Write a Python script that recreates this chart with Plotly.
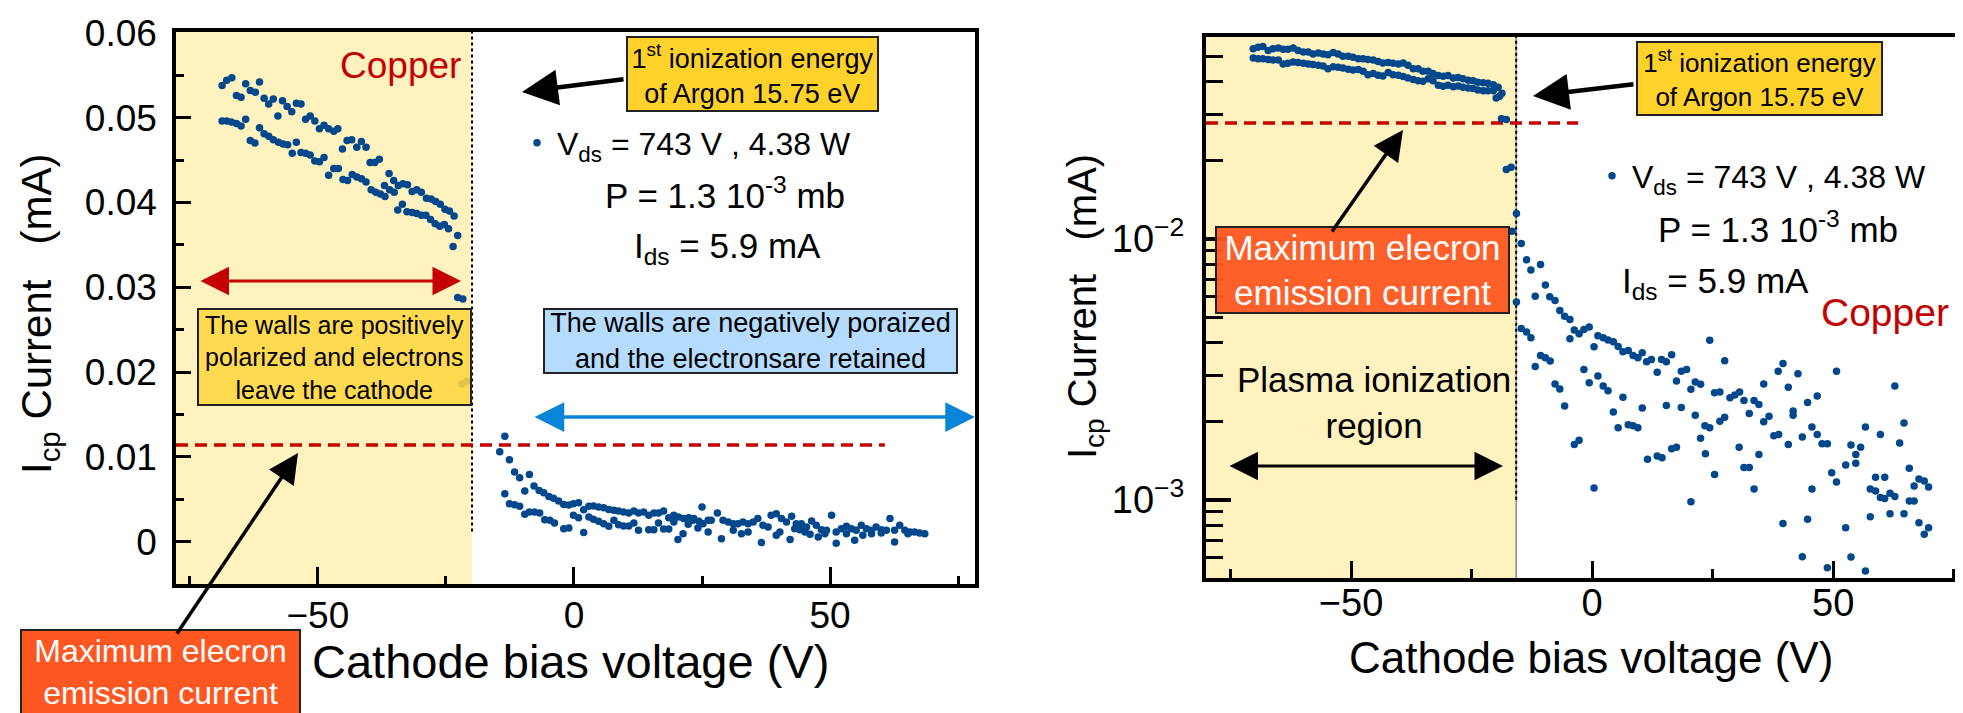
import plotly.graph_objects as go

W, H = 1963, 713
FONT = "Liberation Sans, Arial, Helvetica, sans-serif"

# ------------------------------------------------------------------
# Data: cathode bias (V) and I_cp current (mA)
# ------------------------------------------------------------------
# Linear panel - plasma ionisation region, upper sweep
lin_up_bias = [-68.7, -67.8, -66.8, -65.9, -65.0, -64.1, -63.2, -62.2, -61.4, -60.5,
               -59.6, -58.7, -57.8, -56.9, -56.0, -55.1, -54.2, -53.3, -52.4, -51.5,
               -50.6, -49.7, -48.8, -47.9, -46.9, -46.1, -45.2, -44.3, -43.4, -42.4,
               -41.5, -40.6, -39.8, -38.9, -38.0, -37.0, -36.1, -35.2, -34.3, -33.4,
               -32.5, -31.6, -30.7, -29.8, -28.8, -27.9, -27.0, -26.1, -25.2, -24.3,
               -23.4, -22.7]
lin_up_current = [0.0538, 0.0544, 0.0547, 0.0526, 0.0524, 0.0540, 0.0532, 0.0530, 0.0542, 0.0523,
                  0.0516, 0.0522, 0.0502, 0.0520, 0.0513, 0.0507, 0.0517, 0.0516, 0.0498, 0.0502,
                  0.0496, 0.0487, 0.0491, 0.0487, 0.0484, 0.0487, 0.0463, 0.0473, 0.0474, 0.0465,
                  0.0472, 0.0465, 0.0447, 0.0447, 0.0451, 0.0420, 0.0434, 0.0426, 0.0420, 0.0422,
                  0.0421, 0.0413, 0.0415, 0.0412, 0.0405, 0.0404, 0.0401, 0.0398, 0.0392, 0.0390,
                  0.0384, 0.0361]
# Linear panel - plasma ionisation region, lower sweep
lin_down_bias = [-68.7, -67.8, -66.9, -65.9, -65.0, -64.1, -63.2, -62.3, -61.4, -60.5,
                 -59.6, -58.7, -57.7, -56.8, -55.9, -55.0, -54.2, -53.3, -52.4, -51.5,
                 -50.6, -49.7, -48.8, -47.9, -46.9, -46.0, -45.1, -44.2, -43.3, -42.4,
                 -41.5, -40.6, -39.6, -38.7, -37.8, -36.9, -36.0, -35.1, -34.4, -33.5,
                 -32.6, -31.6, -30.7, -29.8, -28.9, -28.0, -27.1, -26.2, -25.3, -24.5,
                 -23.6, -22.7, -21.7, -21.9, -20.9]
lin_down_current = [0.0496, 0.0496, 0.0495, 0.0493, 0.0490, 0.0498, 0.0473, 0.0470, 0.0488, 0.0481,
                    0.0478, 0.0474, 0.0471, 0.0469, 0.0468, 0.0458, 0.0471, 0.0459, 0.0458, 0.0456,
                    0.0449, 0.0448, 0.0453, 0.0432, 0.0440, 0.0440, 0.0427, 0.0426, 0.0433, 0.0430,
                    0.0428, 0.0424, 0.0415, 0.0412, 0.0410, 0.0407, 0.0415, 0.0412, 0.0391, 0.0398,
                    0.0389, 0.0388, 0.0387, 0.0385, 0.0385, 0.0380, 0.0375, 0.0372, 0.0374, 0.0369,
                    0.0348, 0.0288, 0.0286, 0.0186, 0.0189]
# Linear panel - retarding region (right of the ionisation threshold)
lin_ret_a_bias = [-13.5, -14.5, -12.6, -11.6, -10.6, -8.7, -9.6, -13.5, -7.8, -6.8,
                  -5.9, -4.9, -4.0, -3.0, -2.0, -1.0, -0.1, 0.9, 1.9, 2.9,
                  3.8, 4.8, 5.8, 6.8, 7.8, 8.7, 9.7, 10.7, 11.7, 12.6,
                  13.6, 14.6, 15.6, 16.5, 17.5, 18.5, 19.5, 20.4, 21.4, 22.4,
                  23.4, 24.4, 25.0, 26.2]
lin_ret_a_current = [0.01243, 0.01059, 0.00965, 0.00820, 0.00753, 0.00792, 0.00596, 0.00565, 0.00655, 0.00604,
                     0.00576, 0.00533, 0.00510, 0.00478, 0.00439, 0.00431, 0.00447, 0.00459, 0.00376, 0.00416,
                     0.00420, 0.00408, 0.00400, 0.00380, 0.00369, 0.00361, 0.00349, 0.00337, 0.00361, 0.00337,
                     0.00349, 0.00310, 0.00337, 0.00337, 0.00361, 0.00282, 0.00310, 0.00290, 0.00271, 0.00282,
                     0.00271, 0.00239, 0.00408, 0.00251]
lin_ret_b_bias = [-12.6, -11.6, -10.6, -9.6, -8.7, -7.7, -6.7, -5.7, -4.7, -3.8,
                  -2.0, -1.0, -0.1, 0.9, 1.9, 2.9, 3.8, 4.8, 5.8, 6.8,
                  7.8, 8.7, 9.7, 10.7, 11.7, 12.6, 14.6, 15.6, 16.5, 17.5,
                  18.5, 19.5, 20.3, 21.3, 22.3, 23.2, 24.2, 25.2, 26.2]
lin_ret_b_current = [0.00447, 0.00435, 0.00416, 0.00322, 0.00349, 0.00349, 0.00337, 0.00259, 0.00251, 0.00220,
                     0.00153, 0.00161, 0.00310, 0.00282, 0.00106, 0.00290, 0.00263, 0.00239, 0.00212, 0.00180,
                     0.00251, 0.00200, 0.00184, 0.00184, 0.00220, 0.00133, 0.00141, 0.00141, 0.00220, 0.00149,
                     0.00149, 0.00231, 0.00024, 0.00094, 0.00204, 0.00251, 0.00161, 0.00212, 0.00114]
lin_ret_c_bias = [26.8, 28.0, 29.1, 30.1, 31.1, 32.0, 33.0, 34.0, 35.0, 35.9,
                  36.9, 37.9, 38.5, 39.5, 40.5, 41.5, 42.5, 43.4, 44.4, 45.4,
                  46.4, 47.3, 48.3, 49.3, 50.3, 51.2, 52.2, 53.2, 54.2, 55.1,
                  56.1, 57.1, 58.1, 59.0, 60.0, 61.0, 61.7, 62.6, 63.6, 64.6,
                  65.6, 66.5, 67.5, 68.5]
lin_ret_c_current = [0.00251, 0.00337, 0.00251, 0.00231, 0.00212, 0.00212, 0.00231, 0.00212, 0.00231, 0.00271,
                     0.00192, 0.00173, 0.00310, 0.00329, 0.00271, 0.00231, 0.00298, 0.00212, 0.00212, 0.00173,
                     0.00243, 0.00192, 0.00141, 0.00133, 0.00310, 0.00114, 0.00153, 0.00180, 0.00153, 0.00133,
                     0.00192, 0.00153, 0.00133, 0.00173, 0.00141, 0.00133, 0.00271, 0.00133, 0.00192, 0.00133,
                     0.00114, 0.00114, 0.00102, 0.00094]
lin_ret_d_bias = [28.8, 31.1, 32.7, 34.0, 36.6, 39.5, 40.2, 42.2, 43.1, 44.1,
                  45.1, 46.1, 47.7, 49.0, 51.2, 53.2, 54.8, 56.4, 58.1, 60.0,
                  62.6, 65.2]
lin_ret_d_current = [0.00035, 0.00133, 0.00094, 0.00114, -0.00012, 0.00075, 0.00114, 0.00024, 0.00153, 0.00141,
                     0.00114, 0.00086, 0.00055, 0.00094, -0.00020, 0.00094, 0.00016, 0.00075, 0.00094, 0.00102,
                     -0.00004, 0.00094]

# Log panel - plasma ionisation region
log_up_bias = [-70.3, -69.3, -68.3, -67.2, -66.2, -65.1, -64.1, -63.1, -62.0, -61.0,
               -59.9, -58.9, -57.9, -56.8, -55.8, -54.8, -53.7, -52.7, -51.7, -50.6,
               -49.6, -48.5, -47.5, -46.5, -45.4, -44.4, -43.4, -42.3, -41.3, -40.2,
               -39.2, -38.2, -37.1, -36.1, -35.1, -34.0, -33.0, -31.9, -30.9, -29.9,
               -28.8, -27.8, -26.8, -25.7, -24.7, -23.7, -22.6, -21.6, -20.5, -19.5,
               -18.7]
log_up_current = [0.0536, 0.0543, 0.0547, 0.0527, 0.0536, 0.0539, 0.0533, 0.0533, 0.0539, 0.0527,
                  0.0521, 0.0521, 0.0511, 0.0516, 0.0511, 0.0508, 0.0518, 0.0511, 0.0501, 0.0501,
                  0.0497, 0.0491, 0.0491, 0.0487, 0.0485, 0.0479, 0.0472, 0.0474, 0.0471, 0.0468,
                  0.0472, 0.0463, 0.0449, 0.0449, 0.0439, 0.0439, 0.0431, 0.0423, 0.0420, 0.0423,
                  0.0414, 0.0416, 0.0411, 0.0406, 0.0404, 0.0399, 0.0397, 0.0395, 0.0390, 0.0381,
                  0.0362]
log_down_bias = [-70.3, -69.3, -68.3, -67.2, -66.2, -65.1, -64.1, -63.1, -62.0, -61.0,
                 -59.9, -58.9, -57.9, -56.8, -55.8, -54.8, -53.7, -52.7, -51.7, -50.6,
                 -49.6, -48.5, -47.5, -46.5, -45.4, -44.4, -43.4, -42.3, -41.3, -40.2,
                 -39.2, -38.2, -37.1, -36.1, -35.1, -34.0, -33.0, -31.9, -30.9, -29.9,
                 -28.8, -27.8, -26.8, -25.7, -24.7, -23.7, -22.6, -21.6, -20.5, -19.9,
                 -19.2, -18.8, -17.8, -17.8, -16.8]
log_down_current = [0.0494, 0.0491, 0.0490, 0.0487, 0.0485, 0.0485, 0.0468, 0.0471, 0.0477, 0.0474,
                    0.0471, 0.0468, 0.0466, 0.0463, 0.0460, 0.0449, 0.0457, 0.0455, 0.0452, 0.0447,
                    0.0444, 0.0446, 0.0439, 0.0426, 0.0431, 0.0424, 0.0421, 0.0434, 0.0426, 0.0424,
                    0.0419, 0.0414, 0.0408, 0.0404, 0.0402, 0.0411, 0.0404, 0.0388, 0.0385, 0.0388,
                    0.0383, 0.0386, 0.0381, 0.0379, 0.0377, 0.0372, 0.0370, 0.0370, 0.0370, 0.0347,
                    0.0352, 0.0289, 0.0287, 0.01844, 0.01883]
# Log panel - retarding region
log_ret_bias = [-15.7, -16.6, -15.7, -14.7, -14.7, -13.6, -12.7, -13.6, -12.7, -10.7,
                -11.8, -9.7, -8.8, -7.7, -6.7, -5.7, -4.6, -4.6, -3.7, -2.7,
                -1.7, -0.6, -11.8, -10.7, -9.7, -8.7, -7.7, -6.7, -5.7, -3.7,
                -2.7, -1.7, -0.6, 0.4, 1.2, 2.3, 3.3, 4.4, 5.4, 6.4,
                7.5, 8.5, 9.5, 10.4, 11.3, 12.3, 13.5, 14.4, 15.4, 16.5,
                0.4, 1.2, 2.3, 3.3, 4.4, 5.4, 6.4, 7.5, 8.5, 9.5,
                10.4, 11.5, 13.5, 14.5, 15.4, 16.5, 17.5, 17.5, 18.5, 19.6,
                18.5, 20.5, 21.4, 22.5, 20.5, 21.4, 22.5, 23.5, 24.4, 23.4,
                24.4, 25.4, 25.4, 26.5, 27.5, 26.5, 27.5, 28.6, 29.6, 30.6,
                30.5, 31.5, 32.6, 33.6, 34.6, 31.5, 32.6, 33.6, 34.6, 35.6,
                35.6, 36.7, 37.7, 38.7, 38.6, 39.6, 40.7, 40.7, 39.6, 41.7,
                41.7, 42.7, 43.6, 44.7, 45.6, 46.7, 46.7, 47.7, 48.8, 44.7,
                45.6, 43.6, 49.7, 50.7, 50.7, 48.8, 52.6, 52.6, 53.7, 54.7,
                55.7, 54.7, 53.7, 56.7, 56.7, 57.7, 58.8, 59.8, 60.7, 58.8,
                60.7, 59.8, 57.7, 61.8, 62.8, 61.8, 62.8, 63.8, 64.7, 65.8,
                65.8, 66.8, 64.7, 66.8, 67.8, 68.9, 69.8, 67.8, 69.8, 68.9]
log_ret_current = [0.01250, 0.01070, 0.00573, 0.00960, 0.00453, 0.00440, 0.00418, 0.00831, 0.00760, 0.00797,
                   0.00603, 0.00665, 0.00600, 0.00580, 0.00531, 0.00505, 0.00491, 0.00414, 0.00447, 0.00433,
                   0.00449, 0.00459, 0.00324, 0.00357, 0.00350, 0.00340, 0.00278, 0.00266, 0.00229, 0.00163,
                   0.00169, 0.00316, 0.00281, 0.00386, 0.00425, 0.00418, 0.00410, 0.00403, 0.00387, 0.00369,
                   0.00373, 0.00357, 0.00350, 0.00366, 0.00338, 0.00345, 0.00308, 0.00345, 0.00338, 0.00360,
                   0.00111, 0.00298, 0.00273, 0.00262, 0.00217, 0.00189, 0.00247, 0.00194, 0.00192, 0.00189,
                   0.00225, 0.00143, 0.00147, 0.00145, 0.00230, 0.00157, 0.00159, 0.00285, 0.00311, 0.00316,
                   0.00226, 0.00265, 0.00283, 0.00277, 0.000982, 0.00211, 0.00172, 0.00150, 0.00409, 0.00192,
                   0.00189, 0.00125, 0.00257, 0.00259, 0.00341, 0.00200, 0.00207, 0.00246, 0.00252, 0.00259,
                   0.00159, 0.00240, 0.00214, 0.00240, 0.00232, 0.00133, 0.00133, 0.00110, 0.00149, 0.00278,
                   0.00199, 0.00209, 0.00176, 0.00178, 0.00311, 0.00333, 0.00270, 0.00163, 0.000811, 0.00219,
                   0.00211, 0.00304, 0.00174, 0.00236, 0.00190, 0.00250, 0.00178, 0.00164, 0.00164, 0.000841,
                   0.00110, 0.000605, 0.00127, 0.00117, 0.00311, 0.000549, 0.00136, 0.000781, 0.00162, 0.00149,
                   0.00159, 0.00138, 0.000603, 0.00190, 0.000533, 0.00110, 0.00108, 0.00102, 0.00101, 0.00122,
                   0.00122, 0.00178, 0.000861, 0.00106, 0.00103, 0.000884, 0.00273, 0.00165, 0.00197, 0.00132,
                   0.000988, 0.000988, 0.000884, 0.00113, 0.00120, 0.00118, 0.00112, 0.000816, 0.000781, 0.000737]

# Reference levels
lin_threshold_bias = -19.9       # 1st ionisation energy of Ar, as placed on the linear panel
log_threshold_bias = -15.75      # 1st ionisation energy of Ar, log panel
lin_max_emission = 0.0114        # maximum electron emission current (mA)
log_max_emission = 0.0278
lin_dash_end = 60.7
log_dash_end = -2.9
lin_dot_bottom = 0.0012
log_dot_bottom = 0.001

LIN_X_RANGE = [-77.7, 78.3]
LIN_Y_RANGE = [-0.005, 0.0601]
LOG_X_RANGE = [-80.1, 78.6]
LOG_Y_EXP = [-3.3, -1.226]
LOG_Y_LIMITS = [10 ** LOG_Y_EXP[0], 10 ** LOG_Y_EXP[1]]

LOG_MAJOR = [0.001, 0.01]
LOG_MAJOR_TEXT = ["10<sup>\u22123</sup>", "10<sup>\u22122</sup>"]
LOG_MINOR = [0.0006, 0.0007, 0.0008, 0.0009, 0.002, 0.003, 0.004, 0.005, 0.006,
             0.007, 0.008, 0.009, 0.02, 0.03, 0.04, 0.05]

DOT = "#00478C"
REGION = "#FFF2BF"
RED = "#C40000"


def px(x):
    return x / W


def py(y):
    return 1 - y / H


fig = go.Figure()

# ---- Left (linear) panel ----
fig.add_trace(go.Scatter(
    x=[LIN_X_RANGE[0], lin_threshold_bias, lin_threshold_bias, LIN_X_RANGE[0], LIN_X_RANGE[0]],
    y=[LIN_Y_RANGE[0], LIN_Y_RANGE[0], LIN_Y_RANGE[1], LIN_Y_RANGE[1], LIN_Y_RANGE[0]],
    fill="toself", fillcolor=REGION, mode="lines", line=dict(width=0),
    hoverinfo="skip", showlegend=False, xaxis="x", yaxis="y"))
fig.add_trace(go.Scatter(
    x=[lin_threshold_bias, lin_threshold_bias], y=[lin_dot_bottom, LIN_Y_RANGE[1]],
    mode="lines", line=dict(color="black", width=2, dash="dot"),
    hoverinfo="skip", showlegend=False, xaxis="x", yaxis="y"))
fig.add_trace(go.Scatter(
    x=[LIN_X_RANGE[0], lin_dash_end], y=[lin_max_emission, lin_max_emission],
    mode="lines", line=dict(color=RED, width=3.5, dash="12px,7px"),
    hoverinfo="skip", showlegend=False, xaxis="x", yaxis="y"))
fig.add_trace(go.Scatter(
    x=lin_up_bias + lin_down_bias + lin_ret_a_bias + lin_ret_b_bias + lin_ret_c_bias + lin_ret_d_bias,
    y=lin_up_current + lin_down_current + lin_ret_a_current + lin_ret_b_current
      + lin_ret_c_current + lin_ret_d_current,
    mode="markers", marker=dict(size=7.5, color=DOT),
    name="V<sub>ds</sub> = 743 V , 4.38 W", legend="legend",
    xaxis="x", yaxis="y"))

# ---- Right (log) panel ----
fig.add_trace(go.Scatter(
    x=[LOG_X_RANGE[0], log_threshold_bias, log_threshold_bias, LOG_X_RANGE[0], LOG_X_RANGE[0]],
    y=[LOG_Y_LIMITS[0], LOG_Y_LIMITS[0], LOG_Y_LIMITS[1], LOG_Y_LIMITS[1], LOG_Y_LIMITS[0]],
    fill="toself", fillcolor=REGION, mode="lines", line=dict(width=0),
    hoverinfo="skip", showlegend=False, xaxis="x2", yaxis="y2"))
fig.add_trace(go.Scatter(
    x=[log_threshold_bias, log_threshold_bias], y=LOG_Y_LIMITS,
    mode="lines", line=dict(color="#888888", width=1.5),
    hoverinfo="skip", showlegend=False, xaxis="x2", yaxis="y2"))
fig.add_trace(go.Scatter(
    x=[log_threshold_bias, log_threshold_bias], y=[log_dot_bottom, LOG_Y_LIMITS[1]],
    mode="lines", line=dict(color="black", width=2, dash="dot"),
    hoverinfo="skip", showlegend=False, xaxis="x2", yaxis="y2"))
fig.add_trace(go.Scatter(
    x=[LOG_X_RANGE[0], log_dash_end], y=[log_max_emission, log_max_emission],
    mode="lines", line=dict(color=RED, width=3.5, dash="12px,7px"),
    hoverinfo="skip", showlegend=False, xaxis="x2", yaxis="y2"))
fig.add_trace(go.Scatter(
    x=log_up_bias + log_down_bias + log_ret_bias,
    y=log_up_current + log_down_current + log_ret_current,
    mode="markers", marker=dict(size=7.5, color=DOT),
    name="V<sub>ds</sub> = 743 V , 4.38 W", legend="legend2",
    xaxis="x2", yaxis="y2"))

axis_common = dict(showline=True, linecolor="black", showgrid=False, zeroline=False,
                   ticks="inside", tickcolor="black", automargin=False)

fig.update_layout(
    width=W, height=H, margin=dict(l=0, r=0, t=0, b=0),
    template="none", paper_bgcolor="white", plot_bgcolor="white",
    font=dict(family=FONT, color="black"),
    xaxis=dict(axis_common, domain=[px(168), px(967)], range=LIN_X_RANGE, anchor="y",
               mirror=True, linewidth=3.5, tick0=0, dtick=50, ticklen=17, tickwidth=3,
               minor=dict(ticks="inside", tick0=0, dtick=25, ticklen=8, tickwidth=2.5, tickcolor="black"),
               tickfont=dict(family=FONT, size=37, color="black"), ticklabelstandoff=-4),
    yaxis=dict(axis_common, domain=[py(576), py(24)], range=LIN_Y_RANGE, anchor="x",
               mirror=True, linewidth=3.5, tick0=0, dtick=0.01, ticklen=15, tickwidth=3,
               minor=dict(ticks="inside", tick0=0, dtick=0.005, ticklen=8, tickwidth=2.5, tickcolor="black"),
               tickfont=dict(family=FONT, size=37, color="black"), ticklabelstandoff=8),
    xaxis2=dict(axis_common, domain=[px(1198), 1.0], range=LOG_X_RANGE, anchor="y2",
                mirror=True, linewidth=4, tick0=0, dtick=50, ticklen=17, tickwidth=3,
                minor=dict(ticks="inside", tick0=0, dtick=25, ticklen=9, tickwidth=2.5, tickcolor="black"),
                tickfont=dict(family=FONT, size=38, color="black"), ticklabelstandoff=-12),
    yaxis2=dict(axis_common, domain=[py(570), py(29)], type="log", range=LOG_Y_EXP, anchor="x2",
                mirror=False, linewidth=4, tickmode="array", tickvals=LOG_MAJOR, ticktext=LOG_MAJOR_TEXT,
                ticklen=25, tickwidth=4,
                minor=dict(ticks="inside", tickmode="array", tickvals=LOG_MINOR, ticklen=17,
                           tickwidth=3, tickcolor="black"),
                tickfont=dict(family=FONT, size=38, color="black"), ticklabelstandoff=10),
    legend=dict(x=px(509), y=py(135), xanchor="left", yanchor="middle",
                bgcolor="rgba(0,0,0,0)", borderwidth=0, font=dict(family=FONT, size=32)),
    legend2=dict(x=px(1584), y=py(168), xanchor="left", yanchor="middle",
                 bgcolor="rgba(0,0,0,0)", borderwidth=0, font=dict(family=FONT, size=32)),
)

ann = []


def text(x, y, s, size, color="black", angle=0):
    ann.append(dict(x=px(x), y=py(y), xref="paper", yref="paper", text=s, showarrow=False,
                    xanchor="center", yanchor="middle", textangle=angle,
                    font=dict(family=FONT, size=size, color=color)))


def box(x0, y0, x1, y1, s, size, bg, color="black", border="#222222"):
    bw, bp = 2, 1
    ann.append(dict(x=px((x0 + x1) / 2), y=py((y0 + y1) / 2), xref="paper", yref="paper",
                    text=s, showarrow=False, xanchor="center", yanchor="middle",
                    width=(x1 - x0) - 2 * (bw + bp), height=(y1 - y0) - 2 * (bw + bp),
                    bgcolor=bg, bordercolor=border, borderwidth=bw, borderpad=bp, align="center",
                    font=dict(family=FONT, size=size, color=color)))


def arrow(hx, hy, tx, ty, color="black", width=3, size=1.3, both=False):
    d = dict(x=px(hx), y=py(hy), xref="paper", yref="paper", text="", showarrow=True,
             ax=tx - hx, ay=ty - hy, axref="pixel", ayref="pixel",
             arrowhead=2, arrowsize=size, arrowwidth=width, arrowcolor=color,
             standoff=0, startstandoff=0)
    if both:
        d.update(arrowside="end+start", startarrowhead=2, startarrowsize=size)
    ann.append(d)


# Axis titles
YTITLE = "I<sub>cp</sub> Current\u00a0\u00a0\u00a0(mA)"
XTITLE = "Cathode bias voltage (V)"
text(31, 306, YTITLE, 42, angle=-90)
text(1077, 299, YTITLE, 40, angle=-90)
text(562, 653, XTITLE, 47)
text(1583, 649, XTITLE, 44)

# Left panel texts
text(392, 57, "Copper", 37, RED)
text(717, 185, "P = 1.3 10<sup>-3</sup> mb", 35)
text(719, 240, "I<sub>ds</sub> = 5.9 mA", 35)
box(618, 28, 871, 104, "1<sup>st</sup> ionization energy<br>of Argon 15.75 eV", 27, "#FFD22B")
box(189, 300, 464, 398, "The walls are positively<br>polarized and electrons<br>leave the cathode", 25,
    "rgba(255,214,66,0.88)")
box(535, 300, 950, 366, "The walls are negatively poraized<br>and the electronsare retained", 27, "#B5DCFF")
box(12, 621, 293, 707, "Maximum elecron<br>emission current", 32, "#FF5722", color="white")
arrow(514, 84, 617, 71, width=4.5, size=1.6)
arrow(453, 273, 191, 273, color=RED, width=3, size=1.9, both=True)
arrow(967, 409, 525, 409, color="#0A84D6", width=3.5, size=1.7, both=True)
arrow(290, 445, 168, 627, width=3.5, size=1.7)

# Right panel texts
text(1770, 219, "P = 1.3 10<sup>-3</sup> mb", 35)
text(1707, 275, "I<sub>ds</sub> = 5.9 mA", 35)
text(1877, 304, "Copper", 39, RED)
text(1366, 395, "Plasma ionization<br>region", 35)
box(1628, 33, 1875, 108, "1<sup>st</sup> ionization energy<br>of Argon 15.75 eV", 26, "#FFD22B")
box(1207, 218, 1502, 306, "Maximum elecron<br>emission current", 35, "rgba(255,87,34,0.95)", color="white")
arrow(1525, 88, 1627, 76, width=4.5, size=1.6)
arrow(1395, 122, 1323, 225, width=3.5, size=1.7)
arrow(1495, 458, 1220, 458, width=3, size=1.9, both=True)

fig.update_layout(annotations=ann)
fig.write_html("out.html")
